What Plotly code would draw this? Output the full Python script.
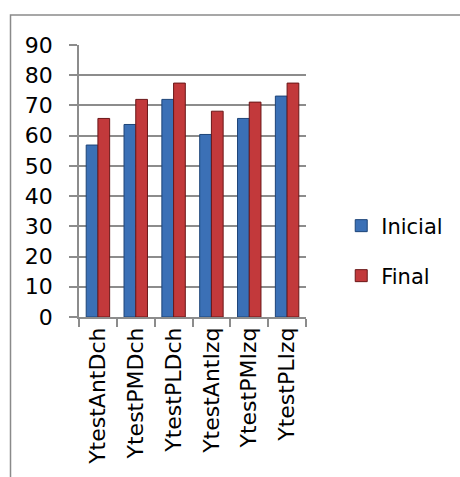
import plotly.graph_objects as go

categories = ["YtestAntDch", "YtestPMDch", "YtestPLDch", "YtestAntIzq", "YtestPMIzq", "YtestPLIzq"]
inicial = [56.9, 63.7, 72.0, 60.4, 65.7, 73.1]
final = [65.7, 72.0, 77.4, 68.1, 71.1, 77.4]
y_ticks = [0, 10, 20, 30, 40, 50, 60, 70, 80, 90]

FONT = "DejaVu Sans"
GRID = "#8c8c8c"

fig = go.Figure()
fig.add_trace(go.Bar(x=categories, y=inicial, name="Inicial",
                     marker=dict(color="#3b70b6", line=dict(color="#1d4478", width=1)),
                     legend="legend"))
fig.add_trace(go.Bar(x=categories, y=final, name="Final",
                     marker=dict(color="#c2393b", line=dict(color="#6a1718", width=1)),
                     legend="legend2"))

W, H = 460, 477
L, R, T, B = 79, 311, 45, 317
pw, ph = R - L, B - T

def px(x):
    return (x - L) / pw

def py(y):
    return (B - y) / ph

fig.update_layout(
    width=W, height=H,
    margin=dict(l=L, r=W - R, t=T, b=H - B, pad=0),
    paper_bgcolor="white", plot_bgcolor="white",
    font=dict(family=FONT, size=22, color="#000000"),
    barmode="group", bargap=0.38, bargroupgap=0.0,
    showlegend=True,
    legend=dict(x=px(347), y=py(226), xanchor="left", yanchor="middle",
                font=dict(size=21, family=FONT), bgcolor="rgba(0,0,0,0)",
                itemwidth=30),
    legend2=dict(x=px(347), y=py(276), xanchor="left", yanchor="middle",
                 font=dict(size=21, family=FONT), bgcolor="rgba(0,0,0,0)",
                 itemwidth=30),
    shapes=[dict(type="rect", xref="paper", yref="paper",
                 x0=px(9), x1=px(480), y0=py(15), y1=py(500),
                 line=dict(color="#8a8a8a", width=1.5), fillcolor="rgba(0,0,0,0)", layer="below")],
)

fig.update_yaxes(range=[0, 90], tickvals=y_ticks, showgrid=True, gridcolor=GRID, gridwidth=1.5,
                 showline=True, linecolor=GRID, linewidth=1.5,
                 ticks="outside", ticklen=8, tickcolor=GRID, tickwidth=1.5,
                 ticklabelstandoff=12, zeroline=False,
                 tickfont=dict(size=22, family=FONT))
fig.update_xaxes(showline=True, linecolor=GRID, linewidth=1.5,
                 ticks="outside", ticklen=8, tickcolor=GRID, tickwidth=1.5,
                 tickson="boundaries", tickangle=-90,
                 tickfont=dict(size=22, family=FONT))

fig.write_html("out.html")
